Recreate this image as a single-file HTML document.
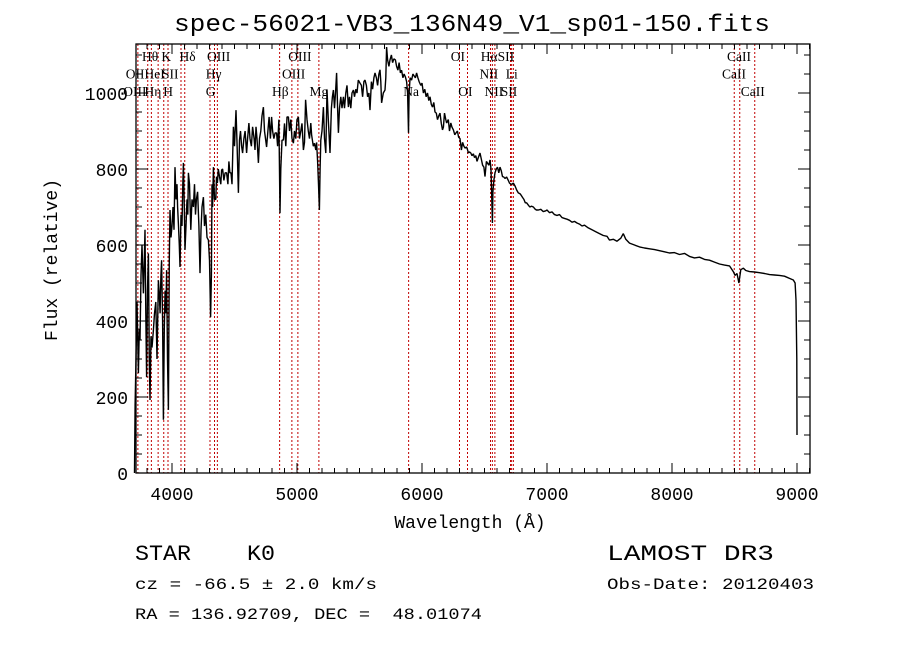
<!DOCTYPE html>
<html><head><meta charset="utf-8"><style>
body{margin:0;background:#fff}
svg{display:block}
text{font-family:"Liberation Mono",monospace;fill:#000;white-space:pre}
.ln{font-family:"Liberation Serif",serif;font-size:13.5px}
</style></head><body>
<svg id="chart" width="900" height="649" viewBox="0 0 900 649" xmlns="http://www.w3.org/2000/svg" xml:space="preserve">
<rect width="900" height="649" fill="#fff"/>
<text x="472" y="31" font-size="24" text-anchor="middle" textLength="596" lengthAdjust="spacingAndGlyphs">spec-56021-VB3_136N49_V1_sp01-150.fits</text>
<g id="lines"></g>
<g id="labels"></g>
<path id="spec" fill="none" stroke="#000" stroke-width="1.4" stroke-linejoin="bevel"/>
<g id="axes"></g>
<text x="470" y="528" font-size="18" text-anchor="middle">Wavelength (Å)</text>
<text transform="translate(57,260) rotate(-90)" font-size="18" text-anchor="middle">Flux (relative)</text>
<text x="135" y="560" font-size="22" textLength="140" lengthAdjust="spacingAndGlyphs">STAR    K0</text>
<text x="135" y="589" font-size="16" textLength="242" lengthAdjust="spacingAndGlyphs">cz = -66.5 ± 2.0 km/s</text>
<text x="135" y="619" font-size="16" textLength="347" lengthAdjust="spacingAndGlyphs">RA = 136.92709, DEC =  48.01074</text>
<text x="607" y="560" font-size="22" textLength="167" lengthAdjust="spacingAndGlyphs">LAMOST DR3</text>
<text x="607" y="589" font-size="16" textLength="207" lengthAdjust="spacingAndGlyphs">Obs-Date: 20120403</text>
</svg>
<script>
const wave=[
3700,3705,3712,3720,3731,3738,3744,3752,3760,3771,
3778,3784,3790,3797,3804,3811,3818,3824,3832,3840,
3851,3860,3870,3880,3891,3898,3905,3911,3917,3925,
3931,3938,3945,3951,3957,3964,3971,3978,3984,3992,
4000,4008,4016,4024,4032,4040,4045,4052,4058,4064,
4072,4080,4086,4091,4098,4104,4112,4120,4126,4131,
4140,4150,4160,4171,4180,4188,4195,4205,4215,4224,
4232,4240,4251,4260,4270,4280,4291,4300,4309,4315,
4320,4325,4331,4340,4350,4356,4363,4370,4380,4390,
4397,4405,4415,4425,4437,4447,4455,4463,4472,4480,
4491,4500,4512,4520,4531,4540,4548,4557,4565,4575,
4585,4597,4605,4615,4624,4635,4645,4657,4664,4672,
4680,4691,4700,4710,4720,4731,4740,4748,4757,4767,
4777,4787,4797,4805,4815,4825,4837,4845,4855,4864,
4870,4880,4891,4900,4910,4920,4931,4940,4950,4960,
4971,4980,4990,5000,5011,5020,5030,5040,5051,5060,
5069,5080,5090,5100,5110,5117,5130,5140,5150,5157,
5165,5172,5179,5185,5190,5200,5211,5220,5230,5240,
5250,5264,5275,5283,5291,5300,5308,5317,5325,5331,
5340,5350,5360,5371,5380,5390,5400,5411,5420,5430,
5440,5451,5460,5470,5480,5490,5504,5515,5525,5535,
5544,5555,5565,5575,5584,5595,5605,5615,5624,5635,
5645,5655,5664,5670,5677,5690,5704,5710,5717,5725,
5735,5744,5755,5765,5775,5787,5797,5807,5817,5827,
5837,5847,5857,5867,5877,5885,5892,5897,5905,5917,
5927,5937,5947,5957,5967,5977,5990,6000,6011,6022,
6033,6044,6054,6064,6074,6084,6094,6104,6114,6124,
6134,6144,6154,6164,6171,6180,6190,6197,6210,6220,
6230,6240,6251,6262,6272,6283,6293,6304,6315,6325,
6335,6345,6357,6365,6371,6380,6390,6400,6411,6420,
6430,6440,6450,6464,6475,6485,6495,6504,6515,6525,
6535,6544,6552,6558,6563,6567,6575,6584,6594,6604,
6614,6624,6634,6644,6654,6664,6677,6690,6700,6710,
6720,6731,6745,6757,6770,6784,6795,6805,6815,6826,
6837,6850,6862,6875,6891,6903,6915,6931,6950,6970,
6990,7000,7020,7040,7060,7080,7100,7120,7140,7160,
7180,7200,7220,7240,7260,7280,7300,7330,7360,7390,
7420,7450,7480,7500,7530,7560,7590,7610,7630,7660,
7700,7740,7780,7820,7860,7900,7940,7980,8020,8060,
8100,8140,8180,8220,8260,8300,8340,8380,8420,8460,
8490,8505,8520,8535,8550,8570,8590,8620,8660,8700,
8740,8780,8820,8860,8900,8940,8970,8985,8992,8998,
9000];
const flux=[
0,180,300,450,263,380,350,520,600,473,
560,640,420,252,480,578,300,192,360,330,
376,420,450,300,507,470,420,520,560,400,
140,380,480,420,534,300,166,560,692,620,
650,700,640,805,720,760,700,650,600,542,
680,650,760,816,700,587,650,720,680,790,
760,640,720,700,760,680,720,740,650,526,
640,700,726,650,680,620,613,560,410,520,
760,700,805,720,720,780,763,800,780,760,
797,800,770,790,790,760,820,790,790,760,
911,860,955,870,737,876,900,860,842,880,
900,842,880,921,880,860,911,880,850,911,
880,816,880,900,940,963,900,880,858,900,
937,880,937,900,880,895,895,860,930,684,
800,876,876,920,860,937,937,900,930,880,
868,900,880,930,937,880,900,920,850,870,
982,930,900,880,921,890,860,868,850,870,
820,760,692,800,876,900,963,880,842,1008,
930,842,960,990,1008,960,1000,1053,960,895,
960,990,960,990,960,1000,1020,963,990,960,
1000,1008,990,1010,1000,1034,1026,1020,990,1030,
1034,1020,990,1000,955,1030,1010,1040,1053,1040,
1020,1050,1061,1030,974,1000,1008,1040,1121,1087,
1070,1087,1100,1080,1090,1087,1070,1060,1080,1053,
1060,1040,1050,1042,1030,1000,895,1000,1040,1034,
1050,1045,1040,1053,1040,1030,1020,1026,1000,1010,
990,1000,980,990,970,963,975,950,947,930,
940,947,920,903,910,947,930,921,930,900,
921,910,903,890,895,900,884,880,850,870,
860,855,858,850,842,845,842,835,840,830,
835,820,830,842,825,810,805,780,820,815,
810,824,800,720,658,740,771,790,800,805,
790,805,795,780,779,775,779,770,763,760,
760,763,755,745,737,735,730,725,720,711,
711,705,700,702,700,695,692,692,694,688,
690,692,685,687,680,678,680,672,670,668,
665,660,662,658,655,650,652,645,640,635,
630,625,623,613,615,610,618,630,615,605,
600,595,592,590,588,585,582,579,580,575,
578,570,566,568,562,560,555,550,547,545,
530,520,525,500,535,539,533,530,529,527,
525,522,521,520,518,512,508,500,455,300,
100];
const lineWaves=[3727,3806,3835,3889,3934,3968,4072,4102,4304,4340,4363,4861,4959,5007,5175,5893,6300,6364,6548,6563,6583,6708,6717,6731,8498,8542,8662];
const labelText=["Hθ","K","Hδ","OIII","OIII","OI","HαSII","CaII","OII","HeI","SII","Hγ","OIII","NII","Li","CaII","OIII","Hη","H","G","Hβ","Mg","Na","OI","NII","SII","CaII"];
const labelWave=[3760,3915,4060,4280,4930,6230,6470,8440,3630,3780,3920,4270,4880,6460,6670,8400,3610,3780,3930,4270,4800,5100,5850,6290,6500,6630,8550];
const labelRow=[0,0,0,0,0,0,0,0,1,1,1,1,1,1,1,1,2,2,2,2,2,2,2,2,2,2,2];
const xTicks=[4000,5000,6000,7000,8000,9000];
const yTicks=[0,200,400,600,800,1000];
const NS="http://www.w3.org/2000/svg";
const L=136,R=810,T=44,B=473;
const xs=w=>172+(w-4000)*0.125;
const ys=f=>B-f*0.38;
function mk(tag,attrs,parent){const e=document.createElementNS(NS,tag);for(const k in attrs)e.setAttribute(k,attrs[k]);parent.appendChild(e);return e;}
const lg=document.getElementById('lines');
lineWaves.forEach(w=>{const e=mk('line',{x1:xs(w),x2:xs(w),y1:T,y2:B,stroke:'#c00000','stroke-width':1,'stroke-dasharray':'2,2'},lg);

});
const lb=document.getElementById('labels');
labelText.forEach((t,i)=>{const e=mk('text',{x:xs(labelWave[i]),y:61+labelRow[i]*17.5,class:'ln'},lb);e.textContent=t;

});
let d='';const n=Math.min(wave.length,flux.length);
for(let i=0;i<n;i++){const y=Math.max(T,ys(flux[i]));d+=(i?'L':'M')+xs(wave[i]).toFixed(1)+','+y.toFixed(1);}
document.getElementById('spec').setAttribute('d',d);
const ax=document.getElementById('axes');
mk('rect',{x:L,y:T,width:R-L,height:B-T,fill:'none',stroke:'#000','stroke-width':1.3},ax);
for(let w=3800;w<=9100;w+=100){const maj=w%1000===0,len=maj?10:5,x=xs(w);
mk('line',{x1:x,x2:x,y1:B,y2:B-len,stroke:'#000'},ax);mk('line',{x1:x,x2:x,y1:T,y2:T+len,stroke:'#000'},ax);}
for(let f=0;f<=1100;f+=50){const maj=f%200===0,len=maj?12:6,y=ys(f);
mk('line',{x1:L,x2:L+len,y1:y,y2:y,stroke:'#000'},ax);mk('line',{x1:R,x2:R-len,y1:y,y2:y,stroke:'#000'},ax);}
xTicks.forEach(w=>{const e=mk('text',{x:xs(w),y:500,'font-size':18,'text-anchor':'middle'},ax);e.textContent=w;

});
yTicks.forEach(f=>{const e=mk('text',{x:128,y:ys(f)+7,'font-size':18,'text-anchor':'end'},ax);e.textContent=f;

});
</script>
</body></html>
